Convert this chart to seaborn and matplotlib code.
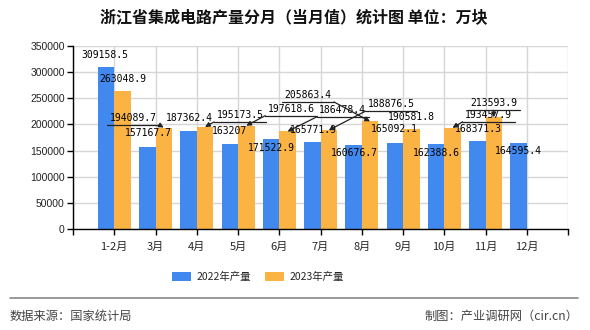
import numpy as np
import pandas as pd
import matplotlib
matplotlib.use("Agg")
import matplotlib.pyplot as plt
import seaborn as sns
from matplotlib.patches import Patch
from matplotlib.lines import Line2D

# ---------------- data ----------------
months = ["1-2月", "3月", "4月", "5月", "6月", "7月", "8月", "9月", "10月", "11月", "12月"]
output_2022 = [309158.5, 157167.7, 187362.4, 163207, 171522.9, 165771.9,
               160676.7, 165092.1, 162388.6, 168371.3, 164595.4]
output_2023 = [263048.9, 194089.7, 195173.5, 197618.6, 186478.4, 188876.5,
               205863.4, 190581.8, 193457.9, 213593.9, np.nan]
series_names = ["2022年产量", "2023年产量"]
y_ticks = [0, 50000, 100000, 150000, 200000, 250000, 300000, 350000]
title_text = "浙江省集成电路产量分月（当月值）统计图 单位：万块"
source_text = "数据来源：国家统计局"
maker_text = "制图：产业调研网（cir.cn）"

# ---------------- styling ----------------
colors = ["#4189EF", "#FBB443"]
# label offsets in pixels relative to bar top centre (dx, dy up), leader flag
blue_offsets = [(-1, 12), (1, 14), (1, 13), (0, 13), (0, -9), (1, 12),
                (1, -8), (0, 14), (0, -9), (1, 12), (0, -8)]
orange_offsets = [(0, 12.5, False), (-30.5, 9.5, True), (35, 12, True),
                  (45, 17, True), (55, 21.5, True), (62.5, 26, True),
                  (-62, 26.4, True), (0, 12, False), (36, 13, True),
                  (0, 14, True)]

sns.set_style("white")
plt.rcParams["font.family"] = ["Noto Sans CJK SC", "DejaVu Sans"]

df = pd.DataFrame({
    "month": months * 2,
    "value": output_2022 + output_2023,
    "series": [series_names[0]] * len(months) + [series_names[1]] * len(months),
})

W, H = 590, 330
fig = plt.figure(figsize=(W / 100, H / 100), dpi=100)
ax = fig.add_axes([73 / W, 1 - 229 / H, (568 - 73) / W, (229 - 46) / H])

sns.barplot(data=df, x="month", y="value", hue="series", order=months,
            hue_order=series_names, palette=colors, width=0.8, errorbar=None,
            saturation=1, legend=False, ax=ax, zorder=2, linewidth=0,
            edgecolor="none")

ax.set_xlim(-1, len(months))
ax.set_ylim(0, 350000)
ax.set_xticks(range(-1, len(months) + 1))
ax.set_xticklabels([""] + months + [""], fontsize=8)
ax.set_yticks(y_ticks)
ax.set_yticklabels([str(v) for v in y_ticks], fontsize=7.5,
                   fontfamily="Liberation Sans", color="#222222")
ax.set_xlabel("")
ax.set_ylabel("")
ax.grid(True, color="#d6d6d6", lw=1)
ax.set_axisbelow(True)
for s in ["top", "right"]:
    ax.spines[s].set_visible(False)
for s in ["left", "bottom"]:
    ax.spines[s].set_color("black")
    ax.spines[s].set_linewidth(1)
ax.tick_params(axis="both", which="both", direction="out", length=4,
               width=1, color="black", bottom=True, left=True)
ax.tick_params(axis="x", pad=5)
ax.tick_params(axis="y", pad=2)


def fmt(v):
    return str(int(v)) if float(v).is_integer() else f"{v:.1f}"


fig.canvas.draw()
label_font = dict(fontsize=7, fontfamily="DejaVu Sans Mono", color="black")

for si, container in enumerate(ax.containers):
    for bar in container:
        h = bar.get_height()
        if h is None or np.isnan(h):
            continue
        xc = bar.get_x() + bar.get_width() / 2
        idx = int(round(xc))
        bx, by = ax.transData.transform((xc, h))
        val = (output_2022 if si == 0 else output_2023)[idx]
        if si == 0:
            dx, dy = blue_offsets[idx]
            leader = False
        else:
            dx, dy, leader = orange_offsets[idx]
        lx, ly = bx + dx, by + dy
        ax.annotate(fmt(val), xy=(lx, ly), xycoords="figure pixels",
                    ha="center", va="center", zorder=5, **label_font)
        if leader:
            uy = ly - 7
            x0, x1 = lx - 26, lx + 26
            fig.add_artist(Line2D([x0 / W, x1 / W], [uy / H, uy / H],
                                  transform=fig.transFigure, color="#222222",
                                  lw=0.9, zorder=6))
            if bx < x0:
                sx = x0
            elif bx > x1:
                sx = x1
            else:
                sx = bx
            ax.annotate("", xy=(bx, by), xycoords="figure pixels",
                        xytext=(sx, uy), textcoords="figure pixels",
                        arrowprops=dict(arrowstyle="-|>", color="#222222",
                                        lw=0.9, mutation_scale=7,
                                        shrinkA=0, shrinkB=0), zorder=6)

# title
fig.text(294 / W, 1 - 18 / H, title_text, ha="center", va="center",
         fontsize=11.5, fontweight="bold", color="#111111")

# legend
handles = [Patch(facecolor=c, edgecolor="none") for c in colors]
fig.legend(handles, series_names, loc="center", bbox_to_anchor=(258 / W, 1 - 277 / H),
           ncol=2, frameon=False, fontsize=7.5, handlelength=1.8,
           handleheight=0.85, handletextpad=0.5, columnspacing=1.4)

# separator and footer
fig.add_artist(Line2D([10 / W, 578 / W], [1 - 298 / H, 1 - 298 / H],
                      transform=fig.transFigure, color="#888888", lw=1.2))
fig.text(10 / W, 1 - 316 / H, source_text, ha="left", va="center",
         fontsize=8.8, color="#444444")
fig.text(578 / W, 1 - 316 / H, maker_text, ha="right", va="center",
         fontsize=8.8, color="#444444")

fig.savefig("out.png", dpi=100)
